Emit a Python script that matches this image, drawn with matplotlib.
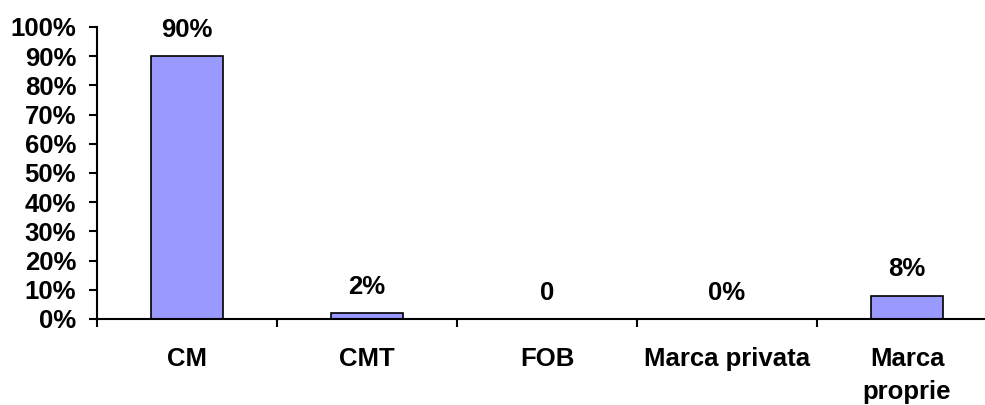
import matplotlib
matplotlib.use("Agg")
import matplotlib.pyplot as plt
import numpy as np

categories = ["CM", "CMT", "FOB", "Marca privata", "Marca\nproprie"]
values = [90, 2, 0, 0, 8]
value_labels = ["90%", "2%", "0", "0%", "8%"]
yticks = [0, 10, 20, 30, 40, 50, 60, 70, 80, 90, 100]

plt.rcParams['font.family'] = ['Liberation Sans', 'DejaVu Sans']
plt.rcParams['font.weight'] = 'bold'
FS = 18.5

fig = plt.figure(figsize=(9.85, 4.05), dpi=100)
ax = fig.add_axes([97/985, 86/405, 900/985, 292/405])

x = np.arange(len(categories))
ax.bar(x, values, width=0.4, color='#9999FF', edgecolor='black', linewidth=1.2, zorder=3)

for xi, v, lab in zip(x, values, value_labels):
    ax.annotate(lab, (xi, v), xytext=(0, 14), textcoords='offset points',
                ha='center', va='baseline', fontsize=FS, fontweight='bold')

ax.set_xlim(-0.5, len(categories) - 0.5)
ax.set_ylim(0, 100)
ax.set_yticks(yticks)
ax.set_yticklabels([f"{t}%" for t in yticks], fontsize=FS, fontweight='bold')
ax.set_xticks(x)
ax.set_xticklabels(categories, fontsize=FS, fontweight='bold', linespacing=1.5)
ax.set_xticks(np.arange(-0.5, len(categories)), minor=True)

ax.tick_params(axis='x', which='major', length=0, pad=20)
ax.tick_params(axis='x', which='minor', length=6, width=1.5, direction='out')
ax.tick_params(axis='y', which='major', length=6, width=1.5, direction='out', pad=9)

for s in ['top', 'right']:
    ax.spines[s].set_visible(False)
for s in ['left', 'bottom']:
    ax.spines[s].set_linewidth(1.5)
ax.spines['bottom'].set_zorder(4)

fig.savefig("out.png", dpi=100)
